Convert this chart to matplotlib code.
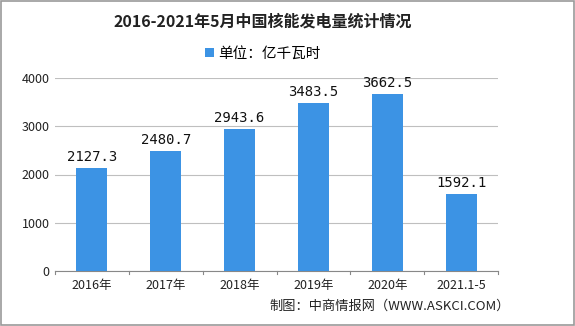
import matplotlib.pyplot as plt
from matplotlib.patches import Rectangle

plt.rcParams['font.family'] = ['Noto Sans CJK SC', 'DejaVu Sans']

# 数据
anos = ['2016年', '2017年', '2018年', '2019年', '2020年', '2021.1-5']
valores = [2127.3, 2480.7, 2943.6, 3483.5, 3662.5, 1592.1]
cor = '#3c93e4'

fig = plt.figure(figsize=(5.75, 3.26), dpi=100)
ax = fig.add_axes([55 / 575, 1 - 271 / 326, 443 / 575, 193 / 326])

x = range(len(anos))
barras = ax.bar(x, valores, width=0.42, color=cor, label='单位：亿千瓦时', zorder=3)
for xi, v in zip(x, valores):
    ax.text(xi, v + 90, f'{v:.1f}', ha='center', va='bottom', fontsize=10,
            family=['DejaVu Sans Mono', 'Noto Sans CJK SC'], color='#111111')

ax.set_xlim(-0.5, len(anos) - 0.5)
ax.set_ylim(0, 4000)
ax.set_yticks([0, 1000, 2000, 3000, 4000])
ax.set_xticks(x)
ax.set_xticklabels(anos, fontsize=9, color='#222222')
ax.tick_params(axis='y', length=0, labelsize=9, colors='#222222', pad=4)
ax.tick_params(axis='x', length=0, pad=6)
ax.grid(axis='y', color='#bfbfbf', linewidth=0.8, zorder=0)
for s in ['top', 'right', 'left']:
    ax.spines[s].set_visible(False)
ax.spines['bottom'].set_color('#888888')

# marcas do eixo x entre categorias
for b in [i - 0.5 for i in range(len(anos) + 1)]:
    ax.plot([b, b], [0, -60], color='#888888', linewidth=0.8, clip_on=False)

fig.text(263 / 575, 1 - 22 / 326, '2016-2021年5月中国核能发电量统计情况', ha='center', va='center',
         fontsize=11.5, fontweight='bold', color='#222222')
leg = fig.legend(handles=[barras], loc='center', bbox_to_anchor=(263 / 575, 1 - 54 / 326),
                 frameon=False, fontsize=10.5, handlelength=0.6, handleheight=0.6,
                 handletextpad=0.3)
fig.text(510 / 575, 1 - 306 / 326, '制图：中商情报网（WWW.ASKCI.COM）', ha='right', va='center',
         fontsize=9.5, color='#222222')

fig.patches.append(Rectangle((0.001, 0.002), 0.997, 0.995, transform=fig.transFigure,
                             fill=False, edgecolor='#999999', linewidth=1.2))

fig.savefig('out.png', dpi=100)
